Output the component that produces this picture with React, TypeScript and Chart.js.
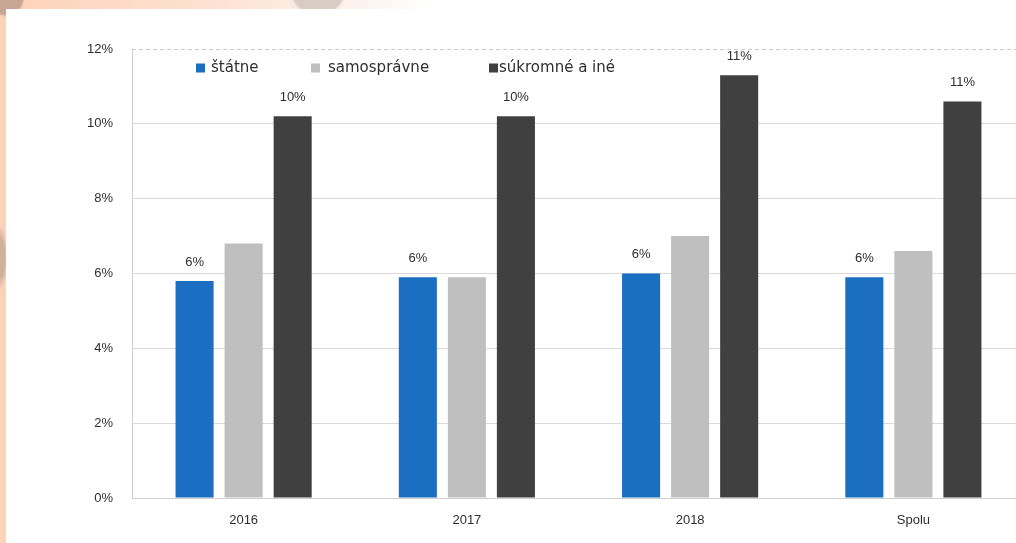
import { useEffect, useRef } from "react";
import { Chart, registerables } from "chart.js";

Chart.register(...registerables);

// Categories and series (share in %)
const categories = ["2016", "2017", "2018", "Spolu"];
const statne = [5.8, 5.9, 6.0, 5.9];
const samospravne = [6.8, 5.9, 7.0, 6.6];
const sukromne = [10.2, 10.2, 11.3, 10.6];

const seriesNames = ["štátne", "samosprávne", "súkromné a iné"];
const seriesColors = ["#1b6ec2", "#bfbfbf", "#404040"];
const seriesValues = [statne, samospravne, sukromne];

// Series that carry value labels above their bars
const labelledSeries = [0, 2];

const yMin = 0;
const yMax = 12;
const yStep = 2;

const tickFont = "'Liberation Sans', Arial, sans-serif";
const legendFont = "'DejaVu Sans', sans-serif";
const textColor = "#2e2e2e";

// Legend entries are laid out inside the plot, near its top edge
const legendBoxOffsets = [64, 179, 357];
const legendTextOffsets = [79, 196, 367];

const topDashedLine = {
  id: "topDashedLine",
  beforeDatasetsDraw(chart: any) {
    const { ctx, chartArea } = chart;
    const y = Math.round(chart.scales.y.getPixelForValue(yMax)) + 0.5;
    ctx.save();
    ctx.strokeStyle = "#c9c9c9";
    ctx.lineWidth = 1;
    ctx.setLineDash([4, 3]);
    ctx.beginPath();
    ctx.moveTo(chartArea.left, y);
    ctx.lineTo(chartArea.right, y);
    ctx.stroke();
    ctx.restore();
  },
};

const valueLabels = {
  id: "valueLabels",
  afterDatasetsDraw(chart: any) {
    const ctx = chart.ctx;
    ctx.save();
    ctx.font = `13px ${tickFont}`;
    ctx.fillStyle = textColor;
    ctx.textAlign = "center";
    ctx.textBaseline = "middle";
    labelledSeries.forEach((di) => {
      const meta = chart.getDatasetMeta(di);
      const data = chart.data.datasets[di].data as number[];
      meta.data.forEach((bar: any, i: number) => {
        ctx.fillText(`${Math.round(data[i])}%`, bar.x, bar.y - 19);
      });
    });
    ctx.restore();
  },
};

const insideLegend = {
  id: "insideLegend",
  afterDraw(chart: any) {
    const { ctx, chartArea } = chart;
    const cy = chartArea.top + 19;
    ctx.save();
    ctx.font = `15px ${legendFont}`;
    ctx.textBaseline = "middle";
    ctx.textAlign = "left";
    seriesNames.forEach((name, i) => {
      ctx.fillStyle = seriesColors[i];
      ctx.fillRect(chartArea.left + legendBoxOffsets[i], cy - 4.5, 9, 9);
      ctx.fillStyle = textColor;
      ctx.fillText(name, chartArea.left + legendTextOffsets[i], cy);
    });
    ctx.restore();
  },
};

export default function App() {
  const canvasRef = useRef<HTMLCanvasElement>(null);

  useEffect(() => {
    const canvas = canvasRef.current;
    if (!canvas) return;
    const chart = new Chart(canvas, {
      type: "bar",
      data: {
        labels: categories,
        datasets: seriesNames.map((name, i) => ({
          label: name,
          data: seriesValues[i],
          backgroundColor: seriesColors[i],
          borderWidth: 0,
          barPercentage: 0.776,
          categoryPercentage: 0.659,
        })),
      },
      options: {
        responsive: false,
        animation: false,
        devicePixelRatio: 1,
        layout: { padding: { left: 0, right: 0, top: 49, bottom: 0 } },
        plugins: {
          legend: { display: false },
          tooltip: { enabled: false },
          title: { display: false },
        },
        scales: {
          x: {
            grid: { display: false, drawTicks: false },
            border: { display: true, color: "#d0d0d0" },
            ticks: {
              color: textColor,
              font: { family: tickFont, size: 13 },
              padding: 15,
              maxRotation: 0,
            },
            afterFit(scale: any) {
              scale.height = 45;
            },
          },
          y: {
            min: yMin,
            max: yMax,
            grid: {
              drawTicks: false,
              color: (c: any) => (c.tick && c.tick.value === yMax ? "rgba(0,0,0,0)" : "#dadada"),
              lineWidth: 1,
            },
            border: { display: true, color: "#cfcfcf" },
            ticks: {
              stepSize: yStep,
              color: textColor,
              font: { family: tickFont, size: 13 },
              padding: 19,
              callback: (v: any) => `${v}%`,
            },
            afterFit(scale: any) {
              scale.width = 132;
            },
          },
        },
      },
      plugins: [topDashedLine, valueLabels, insideLegend],
    });
    return () => chart.destroy();
  }, []);

  return (
    <div
      style={{
        position: "fixed",
        left: 0,
        top: 0,
        width: 1016,
        height: 543,
        overflow: "hidden",
        background:
          "radial-gradient(circle at 318px -12px, #d9ccc5 0 26px, rgba(217,204,197,0) 29px)," +
          "radial-gradient(circle at 6px -2px, #c7a794 0 16px, rgba(199,167,148,0) 19px)," +
          "radial-gradient(ellipse 8px 32px at 0px 258px, #d2b09b 0 60%, rgba(210,176,155,0) 100%)," +
          "linear-gradient(to right, #fcd3b8 0px, #fde0cf 200px, #fdf3ee 360px, #ffffff 430px)",
      }}
    >
      <div
        style={{
          position: "absolute",
          left: 6,
          top: 9,
          right: 0,
          bottom: 0,
          background: "#ffffff",
        }}
      />
      <div style={{ position: "absolute", left: 0, top: 0, width: 1025, height: 543 }}>
        <canvas ref={canvasRef} width={1025} height={543} style={{ display: "block" }} />
      </div>
    </div>
  );
}
